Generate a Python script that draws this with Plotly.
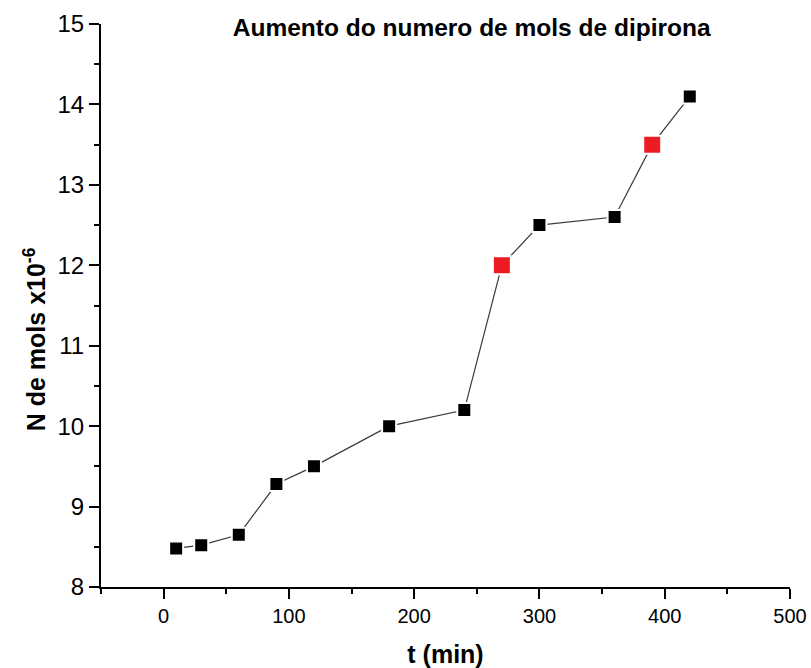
import plotly.graph_objects as go

# Time (min) and number of moles (x10^-6)
t_min = [10, 30, 60, 90, 120, 180, 240, 270, 300, 360, 390, 420]
n_mols = [8.48, 8.52, 8.65, 9.28, 9.50, 10.0, 10.2, 12.0, 12.5, 12.6, 13.5, 14.1]
highlighted_t = [270, 390]

x_ticks = [0, 100, 200, 300, 400, 500]
y_ticks = [8, 9, 10, 11, 12, 13, 14, 15]

colors = ["#ED1C24" if t in highlighted_t else "#000000" for t in t_min]
sizes = [18 if t in highlighted_t else 14 for t in t_min]

fig = go.Figure()
fig.add_trace(go.Scatter(
    x=t_min, y=n_mols, mode="lines+markers",
    line=dict(color="#3a3a3a", width=1.2),
    marker=dict(symbol="square", color=colors, size=sizes, opacity=1,
                line=dict(color="white", width=2)),
    showlegend=False, hoverinfo="x+y",
))

font_family = "Liberation Sans, Arial, sans-serif"

# Y-axis label placed as a rotated annotation, sitting slightly below the axis middle
fig.add_annotation(
    text="<b>N de mols x10<sup>-6</sup></b>",
    xref="paper", yref="paper", x=-0.0958, y=0.44,
    xanchor="center", yanchor="middle", textangle=-90, showarrow=False,
    font=dict(size=25, family=font_family, color="#000000"),
)

fig.update_layout(
    width=811, height=668,
    margin=dict(l=101, r=21, t=24, b=81),
    paper_bgcolor="white", plot_bgcolor="white",
    font=dict(family=font_family, color="#000000"),
    title=dict(text="<b>Aumento do numero de mols de dipirona</b>",
               font=dict(size=24.5, family=font_family, color="#000000"),
               x=0.538, xref="paper", xanchor="center",
               y=1 - 27 / 668, yref="container", yanchor="middle",
               automargin=False),
    xaxis=dict(
        range=[-50, 500], tickmode="array", tickvals=x_ticks,
        ticks="outside", ticklen=10, tickwidth=2, tickcolor="#000000",
        showline=True, linewidth=2, linecolor="#000000",
        showgrid=False, zeroline=False, automargin=False,
        tickfont=dict(size=20, family=font_family),
        minor=dict(dtick=50, tick0=0, ticks="outside", ticklen=5,
                   tickwidth=2, tickcolor="#000000", showgrid=False),
        title=dict(text="<b>t (min)</b>", font=dict(size=25, family=font_family),
                   standoff=24),
    ),
    yaxis=dict(
        range=[8, 15], tickmode="array", tickvals=y_ticks,
        ticks="outside", ticklen=10, tickwidth=2, tickcolor="#000000",
        showline=True, linewidth=2, linecolor="#000000",
        showgrid=False, zeroline=False, automargin=False,
        tickfont=dict(size=24, family=font_family),
        minor=dict(dtick=0.5, tick0=8, ticks="outside", ticklen=5,
                   tickwidth=2, tickcolor="#000000", showgrid=False),
    ),
)

fig.write_html("out.html")
